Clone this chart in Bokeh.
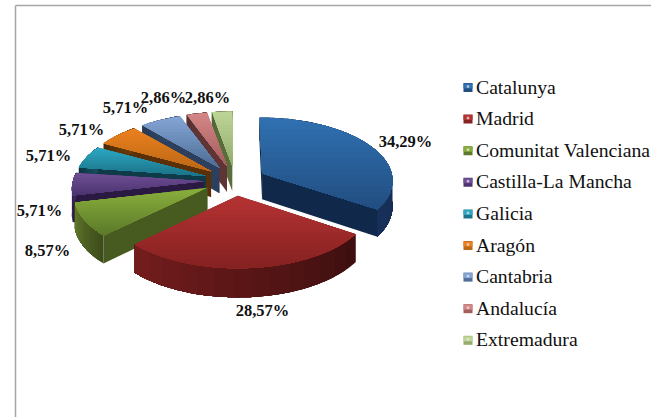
import math
from bokeh.plotting import figure
from bokeh.models import Range1d
from bokeh.core.properties import value
from bokeh.embed import file_html
from bokeh.resources import INLINE

# ---- data -------------------------------------------------------------
regions = ["Catalunya", "Madrid", "Comunitat Valenciana", "Castilla-La Mancha",
           "Galicia", "Aragón", "Cantabria", "Andalucía", "Extremadura"]
shares = [34.29, 28.57, 8.57, 5.71, 5.71, 5.71, 5.71, 2.86, 2.86]
share_labels = ["34,29%", "28,57%", "8,57%", "5,71%", "5,71%", "5,71%", "5,71%", "2,86%", "2,86%"]

# ---- style ------------------------------------------------------------
top_light = ["#3070b0", "#b43232", "#8aae3c", "#6e4e94", "#2ca6c2", "#ea801e", "#84a4d4", "#d48686", "#bcd496"]
top_dark = ["#224e82", "#862222", "#5c7a2a", "#4c3470", "#1c7488", "#bc6816", "#4e6e98", "#a45e5e", "#94ac6c"]
rim_light = ["#16305a", "#721c1c", "#62782a", "#3e2a5c", "#154c5c", "#6a3a0c", "#34496a", "#663a3a", "#647840"]
rim_dark = ["#0f2440", "#3e0f0f", "#3c4c1a", "#24143a", "#0e3440", "#4e2a06", "#283a54", "#543030", "#52643a"]
face_col = ["#10284a", "#4a1212", "#475a20", "#2a1a42", "#0f3a48", "#5a3008", "#2c3f5c", "#5e3434", "#5a6c3c"]

CX, CY = 234.5, 180.0
RX, RY = 131.0, 63.5
EXPLODE = 0.237
PERSP = 0.096
DEPTH = 26.0
label_xy = [(405, 141), (262, 310), (47, 250), (39, 210), (48, 155), (81, 129), (125, 107), (163, 97), (207, 97)]
LEG_Y0, LEG_STEP = 86.0, 31.6
LEG_TXT_X, LEG_MARK_X = 475.5, 467.5
SERIF = "Liberation Serif"
BANDS = 16


def proj(u, v, drop=0.0):
    s = 1 + PERSP * v
    return CX + RX * u * s, CY + RY * v * s + drop * s


def hex_rgb(h):
    return tuple(int(h[i:i + 2], 16) for i in (1, 3, 5))


def lerp(a, b, t):
    t = max(0.0, min(1.0, t))
    ca, cb = hex_rgb(a), hex_rgb(b)
    return "#%02x%02x%02x" % tuple(round(x + (y - x) * t) for x, y in zip(ca, cb))


def clip_below(poly, yc):
    """Part of a polygon lying at screen y >= yc."""
    out = []
    for j, a in enumerate(poly):
        b = poly[(j + 1) % len(poly)]
        ina, inb = a[1] >= yc, b[1] >= yc
        if ina:
            out.append(a)
        if ina != inb:
            t = (yc - a[1]) / (b[1] - a[1])
            out.append((a[0] + (b[0] - a[0]) * t, yc))
    return out


p = figure(width=651, height=417, x_range=Range1d(0, 651), y_range=Range1d(417, 0),
           toolbar_location=None, output_backend="svg", min_border=0,
           outline_line_color=None, background_fill_color="white")
p.axis.visible = False
p.grid.visible = False

# frame of the chart area
p.segment([15, 15], [5, 5], [15, 651], [417, 5], line_color="#a6a6a6", line_width=1.5)

total = sum(shares)
start = 0.0
slices = []
for i, v in enumerate(shares):
    sweep = v / total * 2 * math.pi
    slices.append((i, start, start + sweep))
    start += sweep

# painter's order: back to front
order = sorted(slices, key=lambda s: -math.cos((s[1] + s[2]) / 2))

xs, ys, cols = [], [], []


def add(pts, c):
    xs.append([q[0] for q in pts])
    ys.append([q[1] for q in pts])
    cols.append(c)


for i, a0, a1 in order:
    mid = (a0 + a1) / 2
    ou, ov = EXPLODE * math.sin(mid), -EXPLODE * math.cos(mid)

    def pt(r, a, drop=0.0):
        return proj(ou + r * math.sin(a), ov - r * math.cos(a), drop)

    # cut faces
    for a in (a0, a1):
        add([pt(0, a), pt(1, a), pt(1, a, DEPTH), pt(0, a, DEPTH)], face_col[i])
    # outer rim: each step repaints the remaining arc, so no seams appear
    n = max(6, int((a1 - a0) / 0.02))
    angs = [a0 + (a1 - a0) * k / n for k in range(n + 1)]
    steps = 14
    for k in range(steps):
        from_k = n * k // steps
        arc = angs[from_k:]
        add([pt(1, a) for a in arc] + [pt(1, a, DEPTH) for a in reversed(arc)],
            lerp(rim_dark[i], rim_light[i], k / (steps - 1)))
    # top surface: repainted band by band from the upper edge downward
    outline = [pt(0, a0)] + [pt(1, a) for a in angs]
    ymin, ymax = min(q[1] for q in outline), max(q[1] for q in outline)
    for k in range(BANDS):
        yc = ymin + (ymax - ymin) * k / BANDS
        part = clip_below(outline, yc)
        if len(part) >= 3:
            add(part, lerp(top_light[i], top_dark[i], k / (BANDS - 1)))

p.patches(xs, ys, fill_color=cols, line_color=None)

# data labels
p.text([q[0] for q in label_xy], [q[1] for q in label_xy], text=share_labels,
       text_font=value(SERIF), text_font_style="bold", text_font_size="16.5px",
       text_align="center", text_baseline="middle", text_color="#111111")

# legend
leg_y = [LEG_Y0 + LEG_STEP * k for k in range(len(regions))]
p.text([LEG_TXT_X] * len(regions), leg_y, text=regions, text_font=value(SERIF),
       text_font_size="19.7px", text_align="left", text_baseline="middle", text_color="#111111")
p.rect([LEG_MARK_X] * len(regions), [y + 1 for y in leg_y], width=9, height=9,
       fill_color=top_dark, line_color=None)
p.rect([LEG_MARK_X] * len(regions), [y - 0.5 for y in leg_y], width=9, height=5,
       fill_color=top_light, line_color=None)
p.rect([LEG_MARK_X] * len(regions), [y for y in leg_y], width=2.5, height=2.5,
       fill_color="#e8eef0", fill_alpha=0.7, line_color=None)

open("out.html", "w").write(file_html(p, INLINE))
